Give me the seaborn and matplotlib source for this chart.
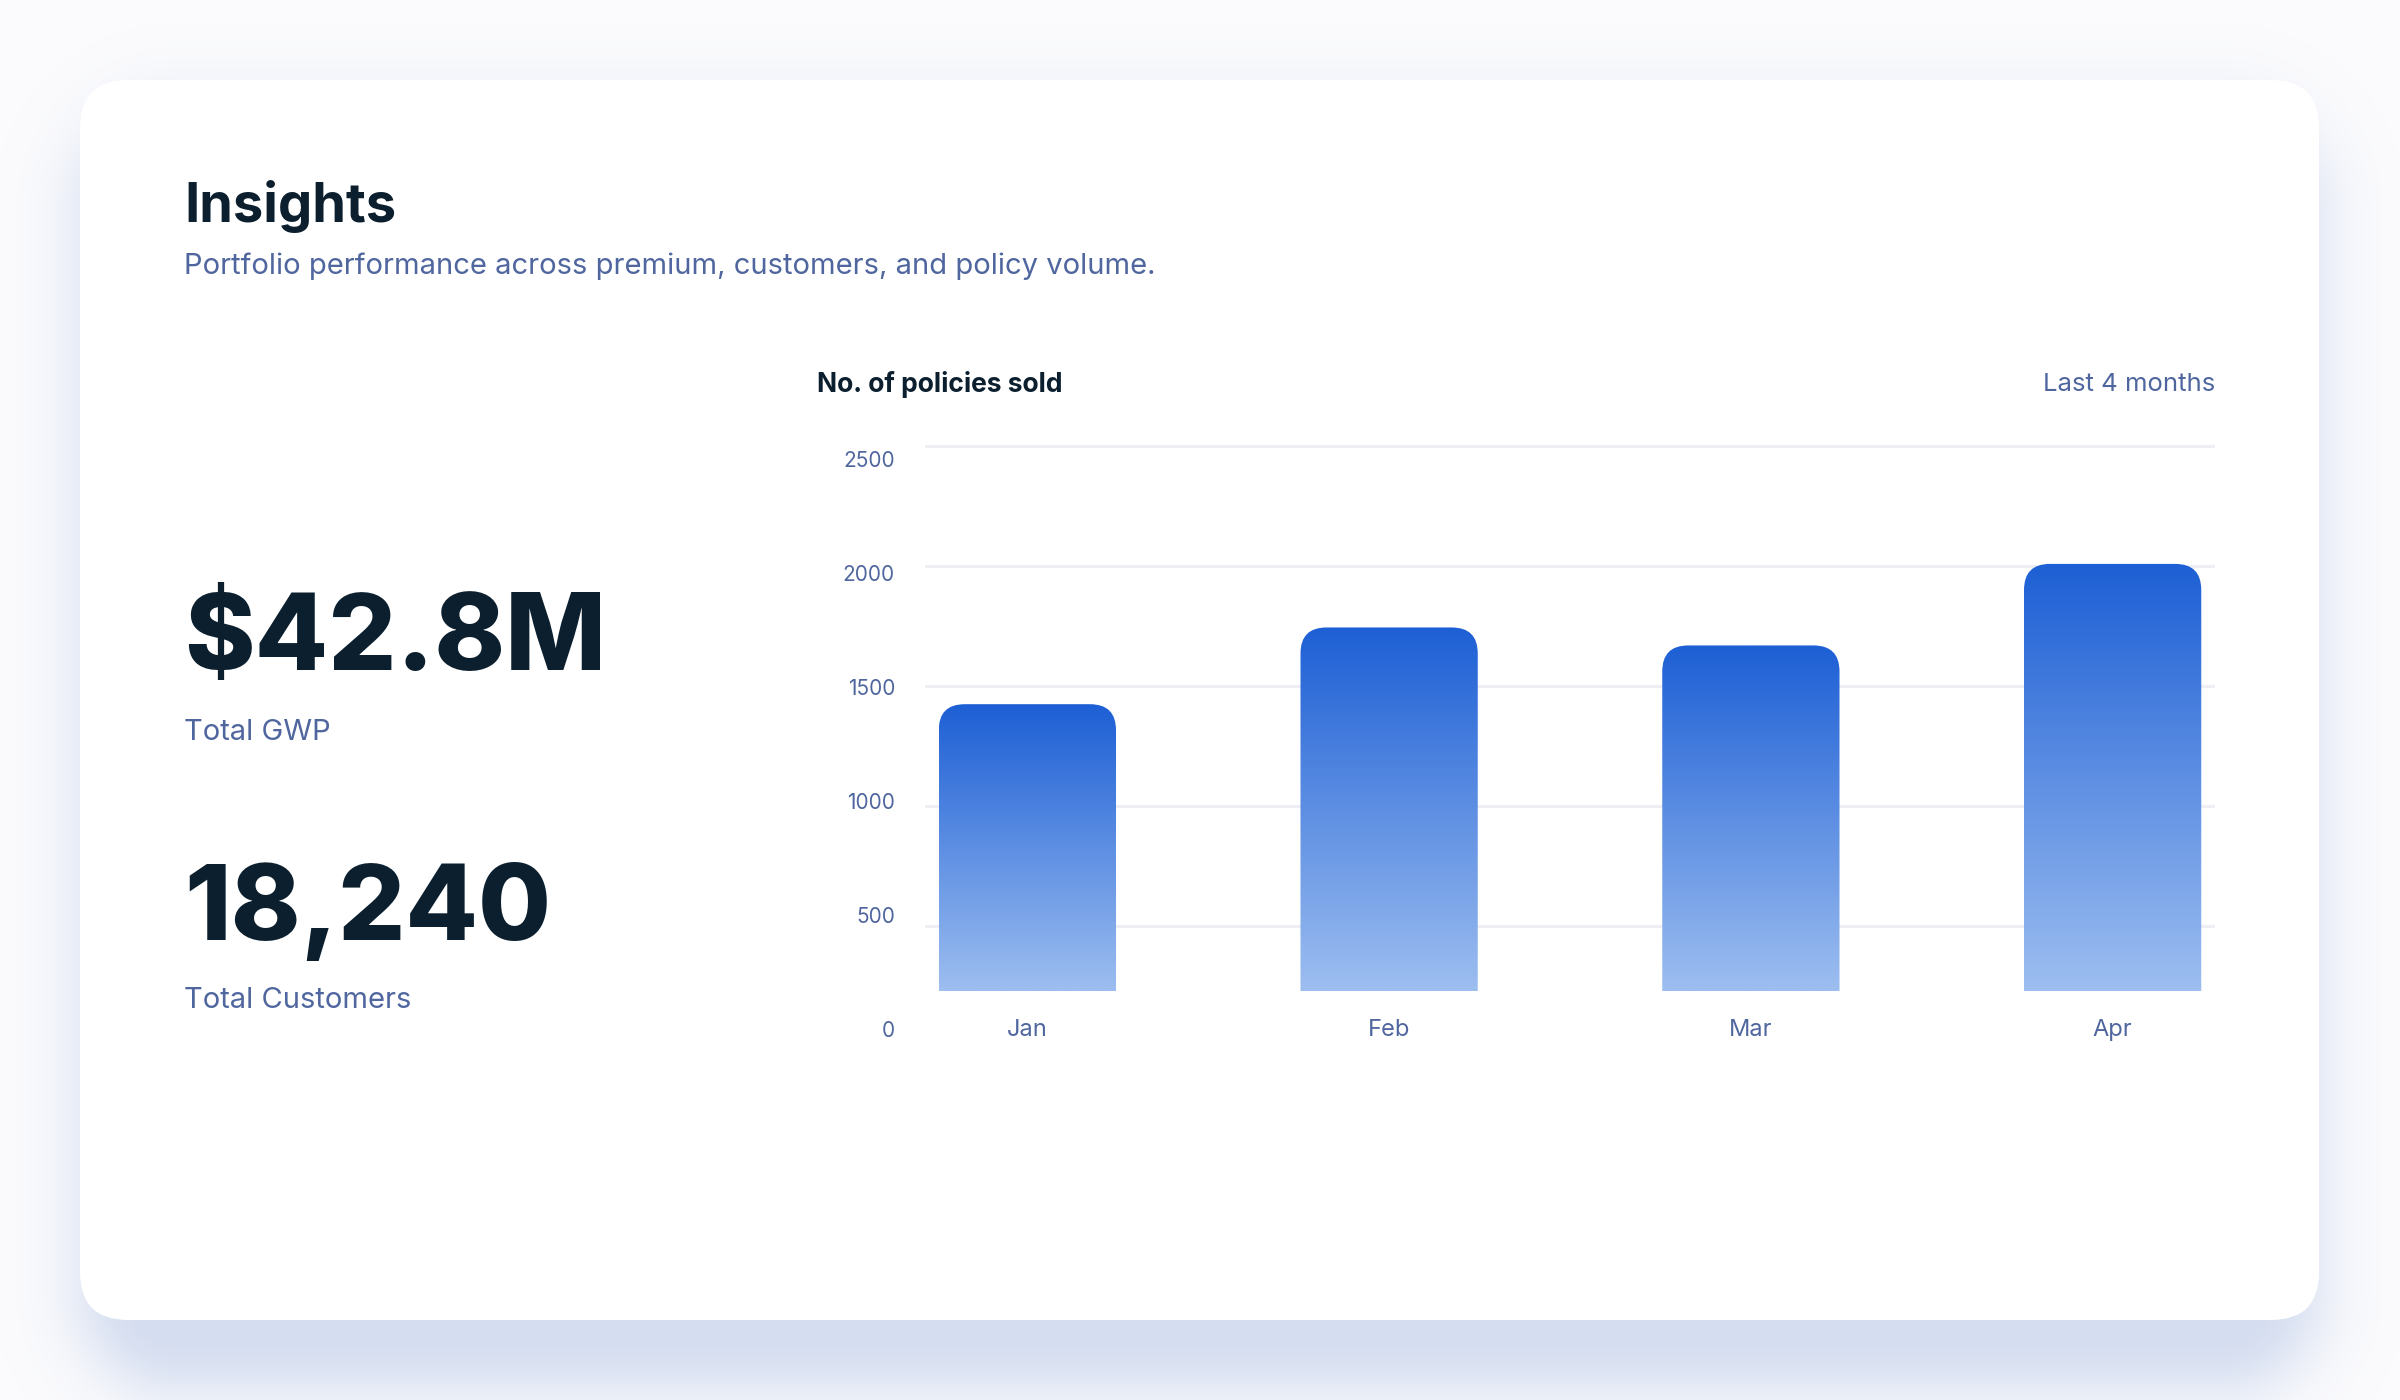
import numpy as np
import pandas as pd
import seaborn as sns
import matplotlib.pyplot as plt
from matplotlib.patches import FancyBboxPatch
from matplotlib.colors import LinearSegmentedColormap
from matplotlib.transforms import IdentityTransform, blended_transform_factory

months = ["Jan", "Feb", "Mar", "Apr"]
policies_sold = [1425, 1745, 1670, 2010]
y_tick_values = [0, 500, 1000, 1500, 2000, 2500]
kpi_values = ["$42.8M", "18,240"]
kpi_labels = ["Total GWP", "Total Customers"]

NAVY = "#0B1F2E"
MUTED = "#50669F"
BAR_TOP = "#1D5FD5"
BAR_BOTTOM = "#9DBEF0"

W, H = 2400, 1400
sns.set_theme(style="white")
plt.rcParams["font.family"] = ["Inter", "DejaVu Sans"]

fig = plt.figure(figsize=(24, 14), dpi=100)
fig.patch.set_facecolor("#FBFBFD")

# background layer in pixel coords (y down)
bg = fig.add_axes([0, 0, 1, 1])
bg.set_xlim(0, W)
bg.set_ylim(H, 0)
bg.axis("off")

# soft card shadow
card_x0, card_y0, card_x1, card_y1 = 80, 80, 2319, 1320
yy, xx = np.mgrid[0:H, 0:W] + 0.5
cx = (card_x0 + card_x1) / 2
cy = (card_y0 + card_y1) / 2 + 50
hw = (card_x1 - card_x0) / 2 - 50
hh = (card_y1 - card_y0) / 2 - 30
r = 48
qx = np.abs(xx - cx) - (hw - r)
qy = np.abs(yy - cy) - (hh - r)
d = np.hypot(np.maximum(qx, 0), np.maximum(qy, 0)) + np.minimum(np.maximum(qx, qy), 0) - r
alpha = 0.55 * np.exp(-(np.maximum(d, 0) / 62.0) ** 2)
shadow = np.zeros((H, W, 4))
shadow[..., 0] = 182 / 255
shadow[..., 1] = 198 / 255
shadow[..., 2] = 230 / 255
shadow[..., 3] = alpha
bg.imshow(shadow, extent=(0, W, H, 0), zorder=0, interpolation="bilinear")
bg.set_xlim(0, W)
bg.set_ylim(H, 0)

card = FancyBboxPatch((card_x0, card_y0), card_x1 - card_x0, card_y1 - card_y0,
                      boxstyle="round,pad=0,rounding_size=48",
                      facecolor="white", edgecolor="none", zorder=1)
bg.add_patch(card)

# header
bg.text(184, 222, "Insights", fontsize=39, fontweight="bold", color=NAVY, va="baseline", zorder=3)
bg.text(184, 274, "Portfolio performance across premium, customers, and policy volume.",
        fontsize=21, color=MUTED, va="baseline", zorder=3)

# KPIs
bg.text(184, 670, kpi_values[0], fontsize=77, fontweight="heavy", color=NAVY, va="baseline", zorder=3)
bg.text(184, 740, kpi_labels[0], fontsize=21, color=MUTED, va="baseline", zorder=3)
bg.text(184, 940, kpi_values[1], fontsize=76, fontweight="heavy", color=NAVY, va="baseline", zorder=3)
bg.text(184, 1008, kpi_labels[1], fontsize=21, color=MUTED, va="baseline", zorder=3)

# chart header
bg.text(817, 392, "No. of policies sold", fontsize=19, fontweight="bold", color=NAVY, va="baseline", zorder=3)
bg.text(2215, 391, "Last 4 months", fontsize=18.5, color=MUTED, ha="right", va="baseline", zorder=3)

# y labels (offset from gridlines as in the original)
for v in y_tick_values:
    bg.text(895, 1031 - v / 500 * 114, str(v), fontsize=15, color=MUTED,
            ha="right", va="center", zorder=3)

# bar chart
ax_top, ax_bottom = 444, 991
ax = fig.add_axes([925 / W, (H - ax_bottom) / H, (2215 - 925) / W, (ax_bottom - ax_top) / H])
ax.set_facecolor("none")
df = pd.DataFrame({"month": months, "policies": policies_sold})
sns.barplot(data=df, x="month", y="policies", ax=ax, width=0.49,
            color=BAR_TOP, saturation=1)
ymin, ymax = 229, 2510
ax.set_xlim(-0.283, 3.283)
ax.set_ylim(ymin, ymax)
ax.set_yticks(y_tick_values[1:])
ax.yaxis.grid(True, color="#EEEEF4", linewidth=2.2)
ax.set_axisbelow(True)
ax.tick_params(left=False, bottom=False, labelleft=False, labelbottom=False)
ax.set_xlabel("")
ax.set_ylabel("")
for s in ax.spines.values():
    s.set_visible(False)

cmap = LinearSegmentedColormap.from_list("bar", [BAR_TOP, BAR_BOTTOM])
grad = np.linspace(0, 1, 256).reshape(-1, 1)
for p in list(ax.patches):
    x0, w, h = p.get_x(), p.get_width(), p.get_height()
    p.set_visible(False)
    (X0, Y0), (X1, Y1) = ax.transData.transform([(x0, 0), (x0 + w, h)])
    clip = FancyBboxPatch((X0, Y0), X1 - X0, Y1 - Y0,
                          boxstyle="round,pad=0,rounding_size=26",
                          transform=IdentityTransform())
    im = ax.imshow(grad, extent=(x0, x0 + w, ymin, h), origin="upper",
                   aspect="auto", cmap=cmap, zorder=2, interpolation="bilinear")
    im.set_clip_path(clip)
ax.set_xlim(-0.283, 3.283)
ax.set_ylim(ymin, ymax)

trans = blended_transform_factory(ax.transData, ax.transAxes)
for i, m in enumerate(months):
    ax.text(i, -39 / (ax_bottom - ax_top), m, transform=trans, fontsize=17, color=MUTED,
            ha="center", va="center", clip_on=False)

fig.savefig("out.png", dpi=100)
